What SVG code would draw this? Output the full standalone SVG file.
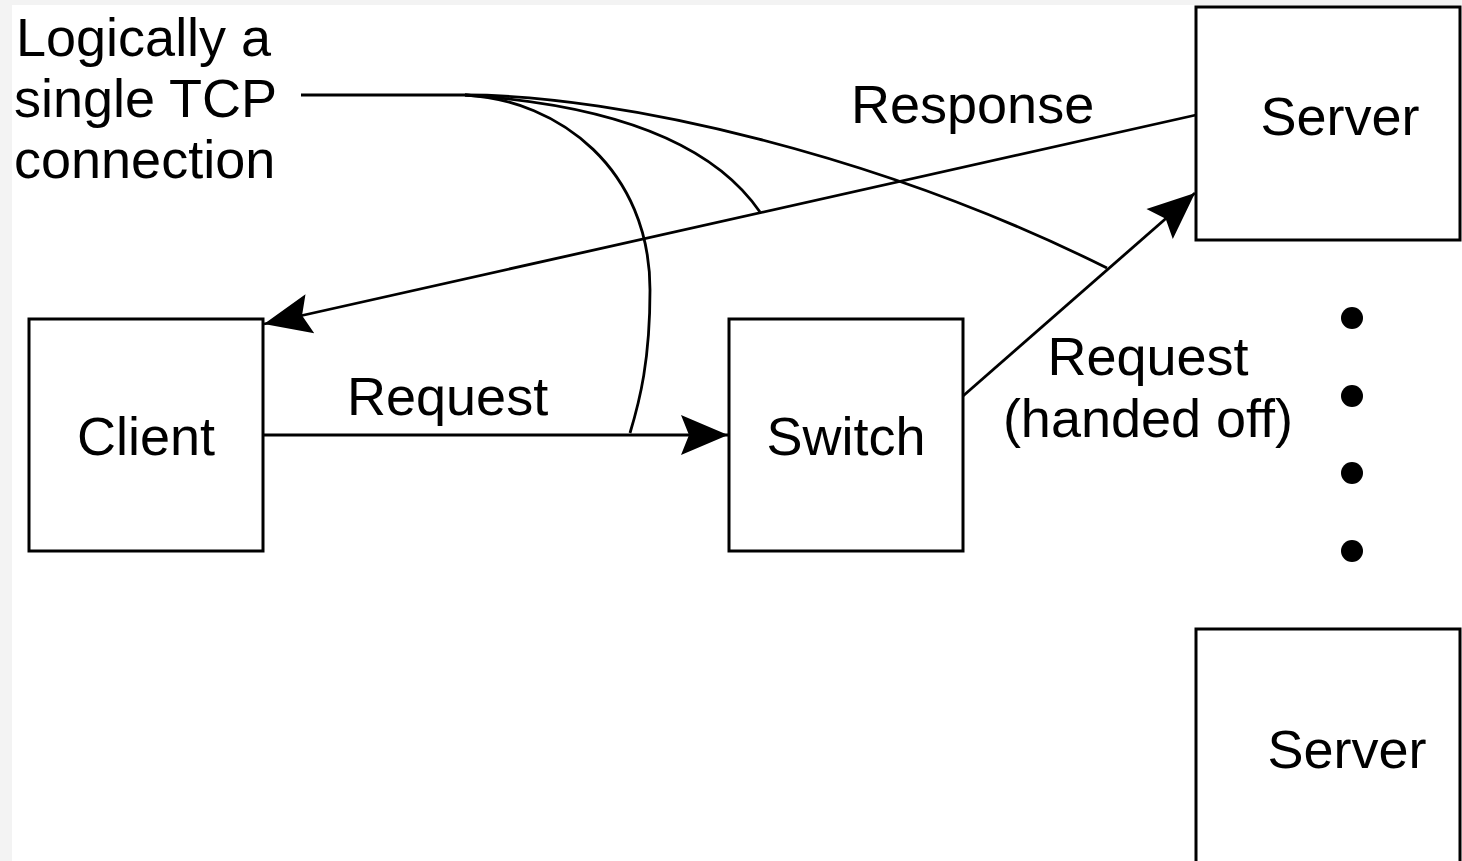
<svg xmlns="http://www.w3.org/2000/svg" width="1462" height="861" viewBox="0 0 1462 861">
<style>
.box{fill:#fff;stroke:#000;stroke-width:3}
.t{font-family:"Liberation Sans",Arial,sans-serif;font-size:54px;fill:#000}
.c{text-anchor:middle}
.ln{fill:none;stroke:#000;stroke-width:2.8}
</style>
<defs>
<marker id="ah" markerUnits="userSpaceOnUse" markerWidth="52" markerHeight="46" refX="49" refY="22" orient="auto" viewBox="0 0 52 44">
<path d="M49,22 L2,2 L10,22 L2,42 Z" fill="#000"/>
</marker>
</defs>
<rect width="1462" height="861" fill="#f3f3f3"/>
<rect x="12" y="5" width="1450" height="856" fill="#fff"/>
<g id="label-tcp">
<text class="t" x="16" y="56">Logically a</text>
<text class="t" x="14" y="117">single TCP</text>
<text class="t" x="14" y="178">connection</text>
</g>
<g id="client"><rect class="box" x="29" y="319" width="234" height="232"/><text class="t c" x="146" y="455">Client</text></g>
<g id="switch"><rect class="box" x="729" y="319" width="234" height="232"/><text class="t c" x="846" y="455">Switch</text></g>
<g id="server1"><rect class="box" x="1196" y="7" width="264" height="233"/><text class="t c" x="1340" y="135">Server</text></g>
<g id="server2"><rect class="box" x="1196" y="629" width="264" height="240"/><text class="t c" x="1347" y="768">Server</text></g>
<g id="dots">
<circle cx="1352" cy="318" r="11"/><circle cx="1352" cy="396" r="11"/><circle cx="1352" cy="473" r="11"/><circle cx="1352" cy="551" r="11"/>
</g>
<g id="connectors">
<line class="ln" x1="263" y1="435" x2="728" y2="435" marker-end="url(#ah)"/>
<line class="ln" x1="1196" y1="115" x2="264" y2="324" marker-end="url(#ah)"/>
<line class="ln" x1="963" y1="396" x2="1195" y2="193" marker-end="url(#ah)"/>
<path class="ln" d="M301,95 L465,95"/>
<path class="ln" d="M465,95 C560,100 650,170 650,290 C650,360 640,400 630,433"/>
<path class="ln" d="M465,95 Q690,110 760,212"/>
<path class="ln" d="M465,95 C620,95 880,155 1107,268"/>
</g>
<g id="labels">
<text class="t" x="851" y="123">Response</text>
<text class="t" x="347" y="415">Request</text>
<text class="t c" x="1148" y="375">Request</text>
<text class="t c" x="1148" y="437">(handed off)</text>
</g>
</svg>
